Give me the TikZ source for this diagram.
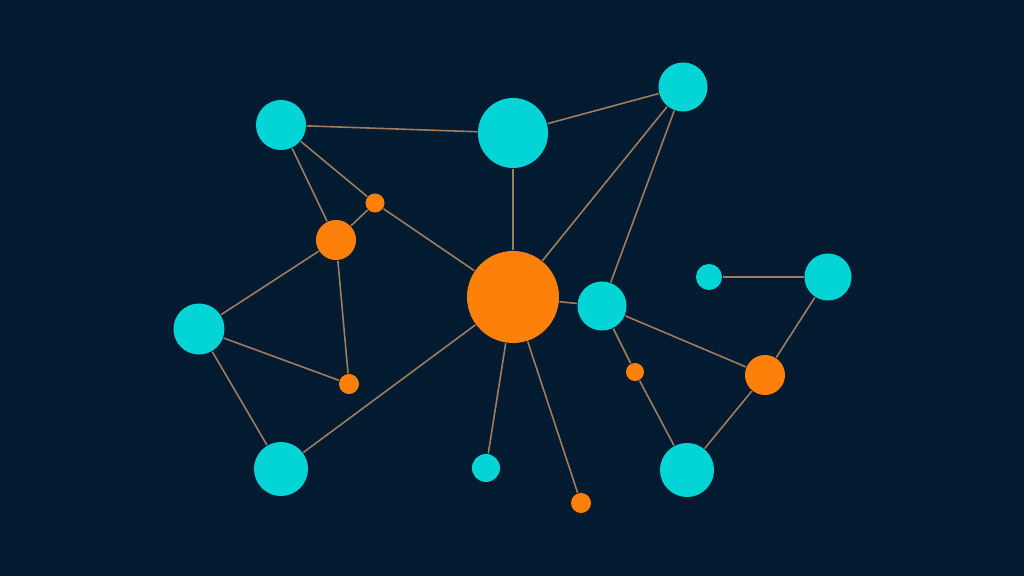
\documentclass[tikz,border=0pt]{standalone}
\usepackage{tikz}
\definecolor{bgnavy}{RGB}{2,27,48}
\definecolor{nodecyan}{RGB}{3,212,214}
\definecolor{nodeorange}{RGB}{253,128,10}
\definecolor{linktan}{RGB}{160,125,95}
\tikzset{
  cyannode/.style={shape=circle, fill=nodecyan, inner sep=0pt},
  orangenode/.style={shape=circle, fill=nodeorange, inner sep=0pt},
  link/.style={-, line width=0.45pt, draw=linktan}
}
\begin{document}
\begin{tikzpicture}[x=0.01cm, y=-0.01cm]
\fill[bgnavy] (0,0) rectangle (1024,576);
\useasboundingbox (0,0) rectangle (1024,576);
\node[cyannode, minimum size=0.50cm] (1) at (281,125) {};
\node[cyannode, minimum size=0.70cm] (2) at (513,133) {};
\node[cyannode, minimum size=0.49cm] (3) at (683,87) {};
\node[cyannode, minimum size=0.51cm] (4) at (199,329) {};
\node[cyannode, minimum size=0.49cm] (5) at (602,306) {};
\node[cyannode, minimum size=0.26cm] (6) at (709,277) {};
\node[cyannode, minimum size=0.47cm] (7) at (828,277) {};
\node[cyannode, minimum size=0.54cm] (8) at (281,469) {};
\node[cyannode, minimum size=0.28cm] (9) at (486,468) {};
\node[cyannode, minimum size=0.54cm] (10) at (687,470) {};
\node[orangenode, minimum size=0.92cm] (11) at (513,297) {};
\node[orangenode, minimum size=0.40cm] (12) at (336,240) {};
\node[orangenode, minimum size=0.19cm] (13) at (375,203) {};
\node[orangenode, minimum size=0.20cm] (14) at (349,384) {};
\node[orangenode, minimum size=0.18cm] (15) at (635,372) {};
\node[orangenode, minimum size=0.40cm] (16) at (765,375) {};
\node[orangenode, minimum size=0.20cm] (17) at (581,503) {};
\path [link] (1) edge  (2);
\path [link] (2) edge  (3);
\path [link] (1) edge  (12);
\path [link] (1) edge  (13);
\path [link] (12) edge  (13);
\path [link] (13) edge  (11);
\path [link] (2) edge  (11);
\path [link] (3) edge  (11);
\path [link] (3) edge  (5);
\path [link] (12) edge  (4);
\path [link] (12) edge  (14);
\path [link] (4) edge  (14);
\path [link] (4) edge  (8);
\path [link] (8) edge  (11);
\path [link] (11) edge  (9);
\path [link] (11) edge  (17);
\path [link] (11) edge  (5);
\path [link] (5) edge  (16);
\path [link] (5) edge  (15);
\path [link] (15) edge  (10);
\path [link] (10) edge  (16);
\path [link] (16) edge  (7);
\path [link] (6) edge  (7);
\end{tikzpicture}
\end{document}
